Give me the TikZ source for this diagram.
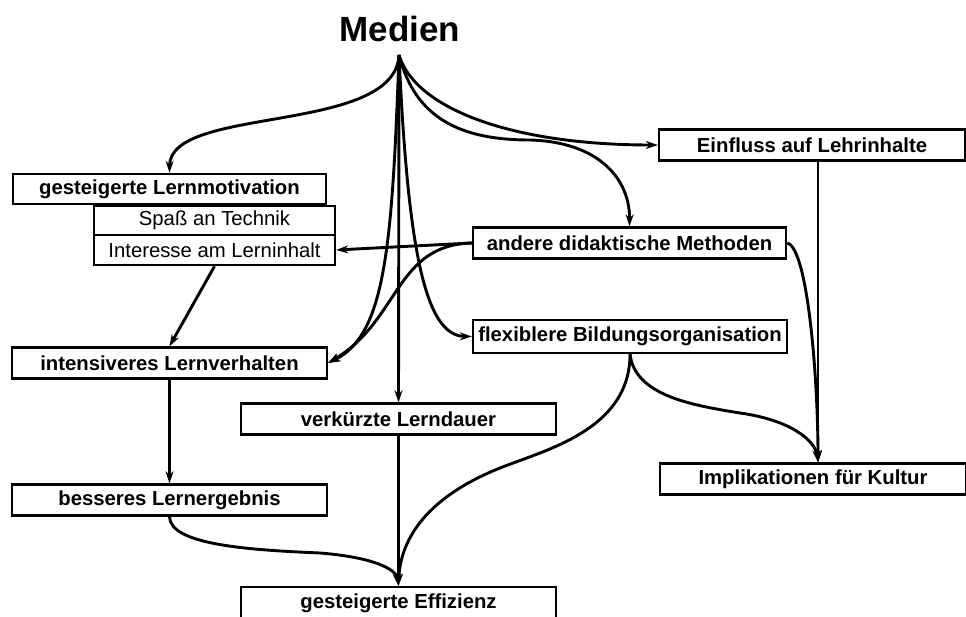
\documentclass[tikz,border=0pt]{standalone}
\usepackage{fontspec}
\setmainfont{Liberation Sans}
\usetikzlibrary{arrows.meta}
\begin{document}
\begin{tikzpicture}[x=1pt,y=-1pt,
  box/.style={draw,line width=2.4pt,minimum height=31pt,inner sep=0pt,
    font=\fontsize{20.3}{24}\selectfont\bfseries},
  sbox/.style={box,font=\fontsize{20.3}{24}\selectfont},
  con/.style={line width=2.9pt,-{Stealth[length=12pt,width=8pt,inset=4pt]}},
  ]
\useasboundingbox (0,0) rectangle (966,617);
\node[font=\fontsize{35}{40}\selectfont\bfseries] (med) at (400,29) {Medien};
\coordinate (m) at (399,55);
\node[box,minimum width=313pt,minimum height=30pt] (lm) at (169.5,189) {gesteigerte Lernmotivation};
\node[sbox,minimum width=241pt,minimum height=29pt] (sp) at (214.5,220.5) {Spaß an Technik};
\node[sbox,minimum width=241pt,minimum height=30pt] (ir) at (214.5,250) {Interesse am Lerninhalt};
\node[box,minimum width=306pt] (ein) at (812,145) {Einfluss auf Lehrinhalte};
\node[box,minimum width=313pt] (and) at (629.5,243) {andere didaktische Methoden};
\node[box,minimum width=314pt,minimum height=33pt] (flex) at (630,336.5) {flexiblere Bildungsorganisation};
\node[box,minimum width=315pt] (int) at (169.5,363) {intensiveres Lernverhalten};
\node[box,minimum width=315pt] (verk) at (398.5,419) {verkürzte Lerndauer};
\node[box,minimum width=315pt] (bes) at (169.5,500) {besseres Lernergebnis};
\node[box,minimum width=315pt,minimum height=33pt] (eff) at (398.5,603.5) {gesteigerte Effizienz};
\node[box,minimum width=306pt] (imp) at (813,479) {Implikationen für Kultur};

% from Medien
\draw[con] (m) .. controls (395,135) and (170,105) .. (lm.north);
\draw[con] (m) .. controls (415,108) and (510,145) .. (ein.west);
\draw[con] (m) .. controls (415,118) and (460,140) .. (530,140)
               .. controls (600,142) and (630,180) .. (and.north);
\draw[con] (m) -- (verk.north);
\draw[con] (m) .. controls (392,250) and (385,335) .. (int.east);
\draw[con] (m) .. controls (408,250) and (425,336) .. (flex.west);

% from andere didaktische Methoden
\draw[con] (and.west) -- (ir.east);
\draw[con] (and.west) .. controls (395,245) and (400,320) .. (int.east);
\draw[con] (and.east) .. controls (808,248) and (818,380) .. ([xshift=5pt]imp.north);

% Einfluss
\draw[con] ([xshift=6pt]ein.south) -- ([xshift=5pt]imp.north);

% flexiblere
\draw[con] (flex.south) .. controls (635,395) and (690,405) .. (740,413)
               .. controls (790,420) and (815,440) .. ([xshift=5pt]imp.north);
\draw[con] (flex.south) .. controls (630,430) and (545,450) .. (500,468)
               .. controls (420,500) and (400,545) .. (eff.north);

% left column
\draw[con] (ir.south) -- (int.north);
\draw[con] (int.south) -- (bes.north);
\draw[con] (bes.south) .. controls (170,545) and (250,550) .. (320,553)
               .. controls (370,557) and (396,568) .. (eff.north);
\draw[con] (verk.south) -- (eff.north);
\end{tikzpicture}
\end{document}
